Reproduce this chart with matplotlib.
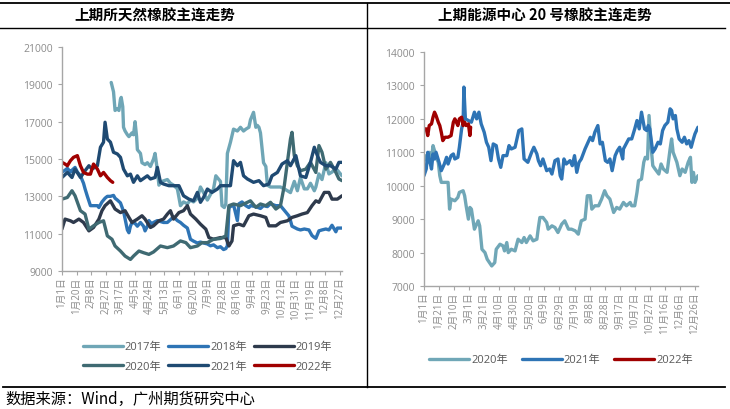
import matplotlib.pyplot as plt
from matplotlib.lines import Line2D

plt.rcParams['font.family'] = ['Open Sans', 'Noto Sans CJK SC', 'DejaVu Sans']

# ---- left chart: SHFE natural rubber (day of year, price) ----
left_ticks = ['1月1日', '1月20日', '2月8日', '2月27日', '3月17日', '4月5日', '4月24日',
              '5月13日', '6月1日', '6月20日', '7月9日', '7月28日', '8月16日', '9月4日',
              '9月23日', '10月12日', '10月31日', '11月19日', '12月8日', '12月27日']

d2017 = [64, 67, 69, 72, 74, 76, 77, 79, 80, 82, 85, 87, 91, 93, 95, 97, 98, 102, 104, 108,
         111, 115, 119, 121, 124, 126, 130, 137, 141, 145, 150, 154, 158, 163, 167, 171, 176,
         180, 184, 189, 193, 197, 200, 204, 206, 208, 211, 213, 215, 217, 219, 223, 228, 232,
         236, 239, 243, 245, 249, 252, 254, 256, 258, 262, 265, 267, 271, 278, 284, 289, 293,
         297, 302, 306, 310, 315, 319, 323, 328, 330, 334, 338, 343, 347, 351, 356, 360, 364]
v2017 = [19100, 18600, 17600, 17700, 17600, 18200, 18300, 17800, 16700, 16500, 16300, 16200,
         16400, 16300, 17000, 16200, 15500, 15300, 14800, 14700, 14800, 14600, 15000, 15300,
         14400, 13600, 13800, 13900, 13700, 13600, 13400, 12500, 12700, 12600, 12800, 12700,
         12900, 13500, 13200, 12800, 13100, 13400, 14100, 13900, 13800, 12500, 12400, 12600,
         15300, 15600, 15900, 16600, 16500, 16700, 16500, 16600, 16700, 17100, 17500, 16700,
         16800, 16700, 16400, 14800, 14600, 13600, 13500, 13500, 13500, 13400, 13300, 13200,
         13800, 13300, 14000, 13400, 13400, 13700, 13300, 13500, 14200, 13900, 14800, 14200,
         14300, 14500, 14300, 14100]

d2018 = [0, 4, 7, 11, 13, 17, 20, 24, 28, 30, 33, 37, 41, 46, 48, 52, 56, 59, 63, 67, 69, 72,
         76, 80, 82, 85, 87, 89, 91, 95, 98, 102, 106, 108, 111, 113, 117, 119, 124, 128, 132,
         137, 141, 145, 150, 154, 158, 163, 167, 171, 176, 180, 184, 189, 193, 197, 202, 206,
         210, 213, 215, 217, 221, 223, 228, 230, 234, 239, 243, 245, 252, 258, 262, 267, 271,
         278, 284, 289, 295, 297, 299, 306, 310, 315, 321, 325, 328, 330, 334, 338, 343, 347,
         351, 356, 358, 364]
v2018 = [14300, 14400, 14500, 14300, 14400, 14550, 14300, 14100, 13700, 13400, 13000, 12500,
         12500, 12500, 12400, 12700, 12900, 13000, 13000, 13050, 12900, 12800, 12650, 12200,
         11800, 11200, 11050, 11400, 11600, 11550, 11400, 11600, 11400, 11150, 11400, 11700,
         11500, 11600, 11700, 11650, 11600, 11600, 11750, 11900, 11700, 11600, 11450, 11300,
         10700, 10600, 10500, 10550, 10500, 10450, 10350, 10400, 10250, 10300, 10150, 10200,
         10350, 12400, 12500, 12550, 11700, 12600, 12700, 12500, 12400, 12500, 12450, 12350,
         12500, 12450, 12600, 12500, 12500, 12250, 11950, 11700, 11400, 11250, 11200, 11250,
         11200, 10900, 10800, 10750, 11150, 11200, 11250, 11200, 11450, 11100, 11300, 11300]

d2019 = [0, 4, 11, 15, 22, 28, 35, 41, 48, 52, 56, 63, 69, 76, 82, 87, 91, 98, 104, 108, 115,
         119, 126, 132, 137, 141, 145, 152, 158, 163, 167, 174, 180, 187, 191, 197, 206, 213,
         217, 221, 223, 230, 236, 243, 249, 258, 265, 269, 278, 284, 293, 299, 306, 312, 319,
         325, 330, 334, 341, 347, 351, 358, 364]
v2019 = [11250, 11780, 11690, 11600, 11780, 11600, 11150, 11330, 11780, 12230, 12500, 12760,
         12320, 12130, 12230, 11870, 11600, 11780, 11960, 11780, 11330, 11420, 11690, 11780,
         12050, 12230, 11780, 12130, 12230, 12500, 12050, 11780, 11510, 11240, 10790, 10700,
         10790, 10790, 10340, 10610, 11420, 11510, 11420, 11960, 12050, 11960, 11870, 11420,
         11420, 11600, 11690, 11870, 11960, 12050, 12130, 12500, 12760, 12680, 13210, 13210,
         12850, 12850, 13030]

d2020 = [0, 7, 13, 17, 24, 30, 35, 41, 48, 54, 59, 65, 69, 76, 82, 89, 93, 100, 106, 113, 119,
         128, 137, 145, 154, 161, 167, 176, 182, 189, 197, 206, 213, 217, 223, 232, 241, 245,
         252, 258, 265, 271, 278, 284, 289, 293, 297, 299, 302, 306, 310, 317, 323, 330, 334,
         338, 343, 349, 356, 360, 364]
v2020 = [12850, 12940, 13300, 13030, 12230, 12050, 11240, 11420, 11600, 11690, 10880, 10700,
         10340, 10070, 9800, 9620, 9800, 10070, 9980, 9890, 10020, 10340, 10250, 10340, 10610,
         10520, 10250, 10340, 10520, 10520, 10700, 10740, 10880, 12500, 12590, 12500, 12680,
         12760, 12410, 12590, 12500, 12680, 12320, 12500, 13570, 14820, 16070, 16430, 15180,
         14640, 14370, 14460, 14820, 14280, 15720, 15360, 14460, 14820, 14280, 13930, 13840]

d2021 = [0, 7, 13, 17, 24, 30, 35, 39, 46, 50, 54, 56, 59, 63, 67, 72, 76, 80, 85, 89, 93, 98,
         102, 111, 115, 121, 124, 128, 132, 139, 145, 152, 158, 165, 171, 176, 180, 184, 189,
         195, 202, 206, 213, 219, 223, 228, 232, 236, 241, 249, 256, 262, 269, 273, 280, 286,
         293, 297, 304, 310, 317, 323, 328, 332, 336, 343, 349, 356, 360, 364]
v2021 = [14010, 14280, 14010, 14460, 14010, 14370, 14640, 14460, 14640, 15630, 15900, 16970,
         16070, 15900, 15360, 15270, 15090, 14460, 14100, 14190, 13750, 14100, 13840, 14100,
         13930, 14010, 14550, 13750, 13660, 13570, 13570, 13570, 13030, 12850, 12760, 13210,
         12680, 12940, 13390, 13210, 13390, 13570, 13570, 13570, 14910, 14640, 14820, 14100,
         13930, 13750, 13840, 13570, 13660, 14100, 14280, 14730, 14910, 14640, 15180, 14100,
         14010, 14820, 15630, 15180, 14820, 14640, 14640, 14460, 14820, 14820]

d2022 = [0, 4, 7, 11, 15, 20, 24, 28, 33, 37, 41, 46, 50, 54, 59, 63, 66]
v2022 = [14820, 14730, 14640, 14910, 15090, 15180, 14640, 14280, 14190, 14190, 14730, 14460,
         14100, 14280, 14010, 13840, 13750]

# ---- right chart: INE TSR20 ----
right_ticks = ['1月1日', '1月21日', '2月10日', '3月1日', '3月21日', '4月10日', '4月30日',
               '5月20日', '6月9日', '6月29日', '7月19日', '8月8日', '8月28日', '9月17日',
               '10月7日', '10月27日', '11月16日', '12月6日', '12月26日']

r2020_d = [0, 3, 5, 7, 10, 12, 14, 16, 19, 21, 23, 28, 32, 34, 36, 41, 45, 47, 52, 54, 56, 59,
           61, 63, 67, 72, 74, 77, 81, 84, 87, 90, 94, 96, 101, 105, 107, 110, 112, 116, 121,
           125, 130, 133, 136, 141, 145, 150, 152, 154, 158, 163, 165, 170, 174, 178, 183, 187,
           192, 196, 201, 205, 209, 214, 217, 221, 223, 227, 232, 236, 240, 243, 247, 252, 256,
           260, 265, 269, 274, 276, 280, 283, 285, 289, 292, 294, 297, 299, 302, 304, 307, 312,
           315, 318, 323, 327, 329, 331, 336, 340, 343, 347, 351, 354, 356, 358, 360, 364]
r2020_v = [10750, 10900, 10700, 11000, 10800, 11200, 11050, 10850, 10700, 10300, 10100, 10100,
           10100, 9300, 9600, 9550, 9650, 9800, 9850, 9700, 9400, 9000, 9350, 9300, 8700, 8950,
           8800, 8100, 8000, 7800, 7700, 7600, 7700, 8100, 8250, 8200, 8050, 8300, 8000, 8100,
           8050, 8400, 8300, 8450, 8300, 8500, 8350, 8400, 8750, 9050, 9050, 8900, 8700, 8800,
           8750, 8600, 8850, 8950, 8700, 8700, 8650, 8550, 8950, 9000, 9700, 9700, 9300, 9400,
           9400, 9600, 9850, 9700, 9600, 9200, 9350, 9300, 9500, 9400, 9500, 9400, 9400, 9800,
           10150, 10200, 10700, 10850, 10800, 12100, 11100, 10600, 10500, 10350, 10650, 10500,
           10400, 11100, 11400, 11000, 10700, 10300, 10500, 10400, 10700, 10850, 10100, 10400,
           10100, 10300]

r2021_d = [0, 3, 5, 7, 10, 12, 14, 16, 20, 23, 27, 30, 32, 36, 39, 41, 45, 47, 50, 52, 53, 55,
           59, 63, 67, 70, 73, 76, 80, 83, 86, 89, 92, 96, 99, 102, 105, 110, 113, 116, 121,
           126, 130, 133, 138, 143, 146, 150, 152, 155, 158, 163, 167, 170, 174, 178, 181, 183,
           186, 189, 194, 197, 200, 203, 206, 209, 214, 217, 221, 224, 227, 231, 234, 237, 241,
           244, 247, 250, 254, 257, 260, 264, 265, 272, 276, 280, 283, 286, 289, 293, 296, 298,
           300, 304, 307, 311, 314, 317, 320, 324, 327, 329, 331, 334, 336, 339, 343, 346, 349,
           352, 355, 358, 360, 364]
r2021_v = [10300, 10500, 11000, 10800, 10500, 10950, 10800, 11000, 10700, 10450, 10650, 10850,
           10650, 10900, 10950, 10800, 10850, 11150, 11700, 11900, 12950, 12000, 11950, 11900,
           12200, 12000, 12200, 11850, 11600, 11300, 11150, 10750, 11250, 11200, 10800, 10550,
           10900, 10900, 11200, 11100, 11150, 11650, 11700, 10800, 10700, 11000, 11150, 10950,
           10750, 10600, 10800, 10450, 10500, 10350, 10750, 10800, 10300, 10200, 10800, 10650,
           10750, 10600, 10900, 10400, 10700, 10800, 11100, 11250, 11450, 11350, 11600, 11800,
           11250, 11300, 10750, 10700, 10800, 10450, 10900, 11050, 11150, 10800, 11100, 11400,
           11400, 11700, 11950, 11700, 12200, 11700, 11650, 11800, 11700, 11000, 11100, 11300,
           11250, 11650, 11800, 11900, 12300, 12250, 12000, 12100, 11700, 11400, 11300, 11450,
           11250, 11350, 11150, 11400, 11550, 11750]

r2022_d = [0, 3, 5, 7, 10, 12, 14, 16, 19, 21, 23, 25, 28, 32, 36, 39, 41, 43, 45, 47, 50, 52,
           54, 56, 59, 61, 62]
r2022_v = [11700, 11700, 11500, 11800, 11850, 12050, 12200, 12100, 11900, 11800, 11600, 11350,
           11450, 11450, 11500, 11900, 12000, 11900, 11800, 12000, 12050, 11800, 11900, 11800,
           11850, 11500, 11750]

c2017 = '#6FA6B6'
c2018 = '#2E74B5'
c2019 = '#2E3A4C'
c2020 = '#3F6A72'
c2021 = '#1F4A72'
c2022 = '#A00000'
c2020r = '#70A7B7'
c2021r = '#2E74B5'
grey = '#8C8C8C'

fig = plt.figure(figsize=(7.3, 4.1), dpi=100)


def style_axis(ax):
    for s in ['top', 'right']:
        ax.spines[s].set_visible(False)
    for s in ['left', 'bottom']:
        ax.spines[s].set_color('#A6A6A6')
        ax.spines[s].set_linewidth(1.0)
    ax.tick_params(axis='both', colors='#A6A6A6', labelcolor=grey, labelsize=7.5,
                   length=3, width=0.8)
    ax.tick_params(axis='x', labelsize=7, pad=1)


lw = 2.4
kw = dict(solid_joinstyle='round', solid_capstyle='round')

ax1 = fig.add_axes([0.0849, 0.3366, 0.3836, 0.5463])
l17, = ax1.plot(d2017, v2017, color=c2017, lw=lw, label='2017年', **kw)
l18, = ax1.plot(d2018, v2018, color=c2018, lw=lw, label='2018年', **kw)
l19, = ax1.plot(d2019, v2019, color=c2019, lw=lw, label='2019年', **kw)
l20, = ax1.plot(d2020, v2020, color=c2020, lw=lw, label='2020年', **kw)
l21, = ax1.plot(d2021, v2021, color=c2021, lw=lw, label='2021年', **kw)
l22, = ax1.plot(d2022, v2022, color=c2022, lw=lw, label='2022年', **kw)
ax1.set_xlim(0, 364)
ax1.set_ylim(9000, 21000)
ax1.set_yticks(range(9000, 21001, 2000))
ax1.set_xticks([19 * i for i in range(len(left_ticks))])
ax1.set_xticklabels(left_ticks, rotation=90)
style_axis(ax1)
# legend fills column by column, so order handles to read row by row
hs = [l17, l20, l18, l21, l19, l22]
ax1.legend(hs, [h.get_label() for h in hs], ncol=3, loc='upper center',
           bbox_to_anchor=(0.52, -0.27), frameon=False,
           fontsize=8, handlelength=3.6, handletextpad=0.2, columnspacing=0.6,
           labelcolor='#595959', labelspacing=0.8)

ax2 = fig.add_axes([0.5808, 0.30, 0.3753, 0.5707])
ax2.plot(r2020_d, r2020_v, color=c2020r, lw=lw, label='2020年', **kw)
ax2.plot(r2021_d, r2021_v, color=c2021r, lw=lw, label='2021年', **kw)
ax2.plot(r2022_d, r2022_v, color=c2022, lw=lw, label='2022年', **kw)
ax2.set_xlim(0, 364)
ax2.set_ylim(7000, 14000)
ax2.set_yticks(range(7000, 14001, 1000))
ax2.set_xticks([20 * i for i in range(len(right_ticks))])
ax2.set_xticklabels(right_ticks, rotation=90)
style_axis(ax2)
ax2.legend(ncol=3, loc='upper center', bbox_to_anchor=(0.5, -0.25), frameon=False,
           fontsize=8, handlelength=3.6, handletextpad=0.2, columnspacing=1.2,
           labelcolor='#595959')

# frame lines and titles
tf = fig.transFigure
fig.add_artist(Line2D([0, 730 / 730], [1 - 4 / 410, 1 - 4 / 410], color='black', lw=1.3, transform=tf))
fig.add_artist(Line2D([0, 725 / 730], [1 - 29 / 410, 1 - 29 / 410], color='black', lw=1.0, transform=tf))
fig.add_artist(Line2D([367 / 730, 367 / 730], [1 - 4 / 410, 1 - 388 / 410], color='black', lw=1.0, transform=tf))
fig.add_artist(Line2D([3 / 730, 725 / 730], [1 - 388 / 410, 1 - 388 / 410], color='black', lw=1.3, transform=tf))

title_font = ['Noto Sans CJK SC', 'DejaVu Sans']
fig.text(155 / 730, 1 - 16 / 410, '上期所天然橡胶主连走势', ha='center', va='center',
         fontsize=10.5, fontweight='bold', family=title_font)
fig.text(545 / 730, 1 - 16 / 410, '上期能源中心 20 号橡胶主连走势', ha='center', va='center',
         fontsize=10.5, fontweight='bold', family=title_font)
fig.text(5 / 730, 1 - 399 / 410, '数据来源：Wind，广州期货研究中心', ha='left', va='center',
         fontsize=11, family=title_font)

fig.savefig('out.png', dpi=100)
